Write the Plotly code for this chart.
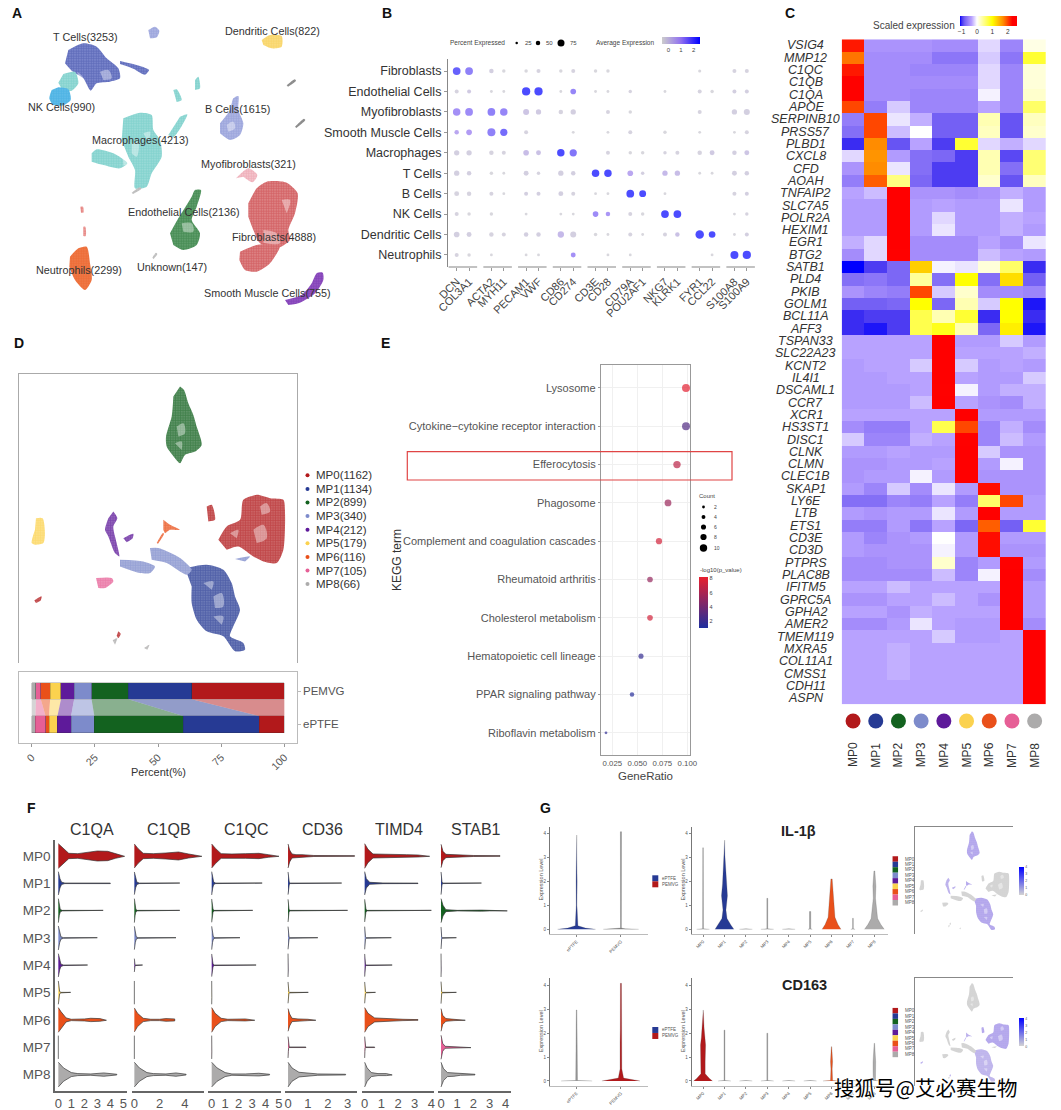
import plotly.graph_objects as go

W, H = 1061, 1110
FONT = "Liberation Sans, Arial, sans-serif"

MP_NAMES = ["MP0", "MP1", "MP2", "MP3", "MP4", "MP5", "MP6", "MP7", "MP8"]
MP_COLORS = ["#b2191b", "#263a94", "#13621f", "#7d8bcb", "#5e1a9a", "#fbd24f", "#e9501a", "#e65f96", "#acabab"]

# ---- Panel A: cell-atlas embedding, cluster outlines in embedding units
A_CLUSTERS = [
    ("#2f3f9e", "#8c96d6", [(205,150),(250,130),(290,140),(320,175),(355,205),(360,235),(330,245),(290,250),(272,272),(250,235),(215,212),(195,190)]),
    ("#2f3f9e", "#8c96d6", [(360,183),(420,198),(447,210),(435,224),(400,206),(360,192)]),
    ("#7f8bd0", "#b8bfe8", [(445,90),(465,80),(478,92),(470,112),(450,115)]),
    ("#5cc4be", "#a8e0dd", [(190,222),(225,215),(235,250),(215,272),(190,270),(175,248)]),
    ("#2ea6de", "#6cc0ea", [(175,262),(205,268),(212,300),(190,316),(160,315),(148,295),(155,270)]),
    ("#5cc4be", "#a8e0dd", [(370,355),(420,338),(455,345),(460,390),(480,420),(485,470),(455,520),(440,560),(405,565),(405,510),(385,470),(365,420)]),
    ("#5cc4be", "#a8e0dd", [(275,460),(290,448),(340,460),(382,490),(360,505),(310,495),(275,485)]),
    ("#5cc4be", "#a8e0dd", [(520,270),(530,268),(545,300),(530,306)]),
    ("#5cc4be", "#a8e0dd", [(585,240),(595,230),(600,265),(585,270)]),
    ("#5cc4be", "#a8e0dd", [(540,350),(562,343),(520,412),(505,405)]),
    ("#7f8bd0", "#b8bfe8", [(660,370),(690,330),(700,295),(715,288),(715,330),(730,370),(720,405),(690,420),(660,400)]),
    ("#f6ca4c", "#fbe08a", [(785,120),(810,105),(845,108),(845,140),(815,145),(790,135)]),
    ("#777777", "#999999", [(860,256),(884,238),(888,242),(864,260)]),
    ("#777777", "#999999", [(885,380),(912,356),(916,360),(889,384)]),
    ("#aaaaaa", "#cccccc", [(395,578),(420,562),(424,566),(399,582)]),
    ("#aaaaaa", "#cccccc", [(457,773),(468,758),(472,762),(461,777)]),
    ("#e88a9a", "#f6d3d8", [(708,535),(745,505),(772,525),(758,547),(730,530)]),
    ("#c4282e", "#e39a9a", [(745,610),(770,565),(800,545),(860,548),(893,580),(885,640),(865,690),(870,720),(830,745),(780,730),(760,690),(745,650)]),
    ("#c4282e", "#e39a9a", [(720,755),(770,735),(840,735),(810,790),(770,815),(735,810),(718,780)]),
    ("#1e6e2e", "#6fa97a", [(510,700),(535,655),(575,590),(585,570),(603,570),(590,620),(575,660),(600,700),(590,735),(550,750),(520,735)]),
    ("#ea5a1e", "#f08050", [(210,770),(235,745),(260,740),(270,790),(275,840),(255,870),(225,840),(208,800)]),
    ("#d9534f", "#f0b0ae", [(241,620),(249,620),(250,638),(243,638)]),
    ("#d9534f", "#f0b0ae", [(250,680),(256,680),(257,708),(250,708)]),
    ("#6b20a8", "#9a62c8", [(855,900),(905,885),(935,850),(950,820),(968,818),(970,840),(945,880),(900,908),(865,915)]),
]
# sparse areas inside the clusters
A_GAPS = [
    [(300,215),(325,210),(335,235),(310,240)], [(232,215),(250,235),(240,255)],
    [(395,430),(415,425),(410,470),(395,460)], [(368,470),(385,490),(370,497)], [(430,400),(450,395),(445,425)],
    [(790,690),(830,700),(840,730),(790,728)], [(845,600),(870,600),(860,640)],
    [(545,670),(575,670),(580,695),(550,695)], [(680,375),(700,365),(705,385),(685,395)],
]
A_LABELS = [
    ("T Cells(3253)", 257, 112), ("Dendritic Cells(822)", 817, 92), ("NK Cells(990)", 183, 320),
    ("B Cells(1615)", 713, 328), ("Macrophages(4213)", 422, 420), ("Myofibroblasts(321)", 745, 492),
    ("Endothelial Cells(2136)", 553, 635), ("Fibroblasts(4888)", 822, 712), ("Unknown(147)", 517, 800),
    ("Neutrophils(2299)", 236, 810), ("Smooth Muscle Cells(755)", 802, 880),
]

# ---- Panel B: dot plot of marker genes
B_CELLS = ["Fibroblasts", "Endothelial Cells", "Myofibroblasts", "Smooth Muscle Cells", "Macrophages",
           "T Cells", "B Cells", "NK Cells", "Dendritic Cells", "Neutrophils"]
B_GENES = ["DCN", "COL3A1", "ACTA2", "MYH11", "PECAM1", "VWF", "CD86", "CD274", "CD3E", "CD28",
           "CD79A", "POU2AF1", "NKG7", "KLRK1", "FYR1", "CCL22", "S100A8", "S100A9"]
B_PCT = [
    [75,75,25,15,15,20,15,20,15,15,0,0,0,0,12,0,20,20],
    [20,20,10,10,85,85,10,40,10,10,15,0,10,0,20,15,20,20],
    [70,75,75,70,45,35,25,35,0,20,15,0,0,0,20,0,35,45],
    [25,40,80,65,20,0,0,10,0,10,20,0,15,0,10,0,10,20],
    [35,35,25,20,40,30,70,65,0,20,15,15,15,20,25,30,25,30],
    [35,25,15,10,30,15,35,25,70,70,40,15,35,35,10,10,30,25],
    [30,25,20,10,20,20,30,20,10,10,75,60,10,0,0,0,20,20],
    [20,15,15,0,10,0,10,10,40,25,20,15,75,75,0,0,10,15],
    [40,30,25,20,25,25,50,45,15,10,20,10,20,25,90,55,10,20],
    [20,15,10,0,10,10,0,30,0,10,10,0,0,0,0,10,80,85],
]
B_EXPR = [
    [2.6,2.0,.3,.1,.1,.2,.1,.2,.1,.1,0,0,0,0,.1,0,.2,.2],
    [.2,.4,.1,.1,3,3,.1,1.9,.1,.1,.2,0,.1,0,.2,.1,.3,.3],
    [1.7,1.8,2.0,1.9,.5,.4,.2,.3,0,.2,.1,0,0,0,.2,0,.3,.3],
    [1.2,1.5,2.0,2.4,.2,0,0,.1,0,.1,.2,0,.1,0,.1,0,.1,.2],
    [.3,.3,.2,.2,.7,.6,3,2.2,0,.2,.1,.1,.2,.2,.2,.4,.3,.5],
    [.3,.3,.1,.1,.3,.2,.3,.3,3,3,1.2,.3,.8,.7,.1,.1,.3,.3],
    [.2,.2,.2,.1,.3,.3,.3,.2,.1,.1,3,3,.1,0,0,0,.2,.3],
    [.2,.1,.1,0,.1,0,.1,.1,1.8,1.6,.2,.1,3,3,0,0,.1,.2],
    [.3,.3,.2,.2,.3,.3,.8,.3,.1,.1,.2,.1,.2,.6,3,3,.1,.3],
    [.2,.1,.1,0,.1,.1,0,1.7,0,.1,.1,0,0,0,0,.1,3,3],
]

# ---- Panel C: scaled expression of top genes per macrophage programme
C_GENES = ["VSIG4","MMP12","C1QC","C1QB","C1QA","APOE","SERPINB10","PRSS57","PLBD1","CXCL8","CFD","AOAH",
           "TNFAIP2","SLC7A5","POLR2A","HEXIM1","EGR1","BTG2","SATB1","PLD4","PKIB","GOLM1","BCL11A","AFF3",
           "TSPAN33","SLC22A23","KCNT2","IL4I1","DSCAML1","CCR7","XCR1","HS3ST1","DISC1","CLNK","CLMN","CLEC1B",
           "SKAP1","LY6E","LTB","ETS1","CD3E","CD3D","PTPRS","PLAC8B","IFITM5","GPRC5A","GPHA2","AMER2",
           "TMEM119","MXRA5","COL11A1","CMSS1","CDH11","ASPN"]
C_VALUES = [
    [2.2,-.45,-.45,-.45,-.5,-.5,-.15,-.55,.1],
    [1.8,-.5,-.5,-.5,-.65,-.65,-.2,-.65,.8],
    [2.2,-.5,-.5,-.55,-.55,-.55,-.15,-.55,.15],
    [2.3,-.5,-.5,-.5,-.5,-.5,-.15,-.55,.15],
    [2.3,-.5,-.5,-.55,-.55,-.55,-.05,-.55,.2],
    [2.0,-.6,-.2,-.55,-.55,-.55,-.35,-.55,.6],
    [-.6,2.0,-.1,-.3,-.8,-.8,.3,-.85,.25],
    [-.7,2.0,-.25,0,-.8,-.8,.25,-.85,.2],
    [-1.0,1.7,-.85,-.35,-.95,.8,-.15,-.3,-.15],
    [-.15,1.65,-.4,-.7,-.75,-.95,.3,-.9,.55],
    [-.45,1.7,-.1,-.7,-.95,-.95,.3,-.7,.55],
    [-.6,1.9,.5,-.75,-.95,-.95,.2,-.85,.25],
    [-.35,-.25,2.4,-.45,-.45,-.5,-.45,-.3,-.4],
    [-.4,-.4,2.4,-.4,-.35,-.4,-.4,-.1,-.4],
    [-.4,-.4,2.45,-.4,-.15,-.4,-.4,-.3,-.35],
    [-.4,-.4,2.45,-.4,-.1,-.4,-.4,-.3,-.4],
    [-.3,-.15,2.4,-.5,-.5,-.5,-.35,-.5,-.1],
    [-.5,-.15,2.3,-.5,-.5,-.5,-.25,-.35,-.4],
    [-1.1,-.95,-.75,1.3,-.05,-.1,.15,.6,-1.0],
    [-.7,-.65,-.75,.4,-.7,1.0,-.7,1.2,-.8],
    [-.45,-.55,-.6,2.0,-.2,.2,-.5,-.5,-.55],
    [-.8,-.8,-.75,1.0,-.75,.3,-.2,1.0,-1.05],
    [-1.0,-.95,-.95,.7,.3,.8,-1.0,1.0,-1.0],
    [-1.0,-1.05,-.95,.7,.9,.3,-.75,1.1,-1.05],
    [-.35,-.35,-.35,-.35,2.45,-.4,-.4,-.2,-.4],
    [-.35,-.35,-.35,-.35,2.45,-.35,-.35,-.35,-.3],
    [-.4,-.35,-.35,-.2,2.45,-.2,-.4,-.35,-.4],
    [-.4,-.4,-.35,-.35,2.45,-.35,-.4,-.4,-.2],
    [-.4,-.4,-.4,-.35,2.3,-.05,-.4,-.3,-.3],
    [-.4,-.4,-.4,-.25,2.4,-.35,-.45,-.5,-.3],
    [-.35,-.35,-.35,-.35,-.35,2.45,-.4,-.4,-.4],
    [-.5,-.6,-.6,-.35,.7,2.0,-.55,-.3,-.5],
    [-.2,-.55,-.55,-.3,-.35,2.3,-.55,-.25,-.4],
    [-.4,-.4,-.35,-.4,-.4,2.4,-.2,-.45,-.45],
    [-.45,-.45,-.4,-.4,-.35,2.4,-.4,-.05,-.45],
    [-.45,-.4,-.4,-.05,-.4,2.4,-.45,-.45,-.45],
    [-.4,-.55,-.2,-.5,-.1,-.4,2.25,-.45,-.45],
    [-.7,-.7,-.55,-.6,-.35,-.6,.6,2.0,-.4],
    [-.4,-.45,-.4,-.4,-.1,-.4,2.3,-.4,-.4],
    [-.6,-.6,-.4,-.65,-.35,-.75,1.9,-.8,.8],
    [-.4,-.55,-.45,-.4,0,-.4,2.25,-.4,-.4],
    [-.4,-.45,-.45,-.45,-.05,-.4,2.25,-.45,-.45],
    [-.5,-.5,-.45,-.45,.2,-.55,-.4,2.3,-.4],
    [-.5,-.5,-.5,-.5,-.25,-.55,-.05,2.35,-.5],
    [-.35,-.35,-.25,-.35,-.35,-.35,-.35,2.5,-.4],
    [-.45,-.45,-.35,-.35,-.25,-.35,-.45,2.5,-.4],
    [-.35,-.35,-.45,-.3,-.35,-.35,-.35,2.5,-.4],
    [-.5,-.5,-.4,-.1,-.35,-.4,-.4,2.5,-.5],
    [-.35,-.35,-.35,-.35,-.2,-.4,-.4,-.35,2.5],
    [-.35,-.35,-.3,-.35,-.35,-.35,-.35,-.35,2.5],
    [-.35,-.35,-.3,-.35,-.35,-.35,-.35,-.35,2.5],
    [-.35,-.35,-.3,-.35,-.35,-.35,-.35,-.35,2.5],
    [-.35,-.35,-.35,-.35,-.35,-.35,-.35,-.35,2.5],
    [-.35,-.35,-.35,-.35,-.35,-.35,-.35,-.35,2.5],
]
C_SCALE = [[0, "#0000ff"], [.027, "#3a2cf2"], [.04, "#4c3cf2"], [.081, "#7460f4"], [.162, "#a48cfb"], [.203, "#b8a2ff"],
           [.297, "#ffffff"], [.568, "#ffff00"], [.757, "#ff8c00"], [.92, "#ff0000"], [1, "#ff0000"]]

# ---- Panel D: macrophage embedding (programme index, outline) and sample composition
D_CLUSTERS = [
    (2, [(540,170),(552,180),(565,220),(580,255),(590,290),(605,345),(585,365),(555,375),(540,400),(525,385),(500,350),(498,320),(515,260),(520,200)]),
    (0, [(655,630),(680,590),(720,570),(730,510),(770,495),(810,505),(850,510),(855,550),(850,660),(830,700),(790,695),(760,680),(715,650),(680,660)]),
    (0, [(620,530),(635,525),(645,570),(625,575)]),
    (1, [(555,715),(620,705),(670,720),(695,760),(705,800),(720,840),(700,890),(690,920),(730,940),(735,960),(705,965),(670,920),(620,905),(590,870),(575,820),(575,770)]),
    (3, [(450,655),(475,655),(540,685),(575,720),(560,735),(500,700),(455,690)]),
    (3, [(360,690),(430,695),(465,710),(450,730),(420,730),(360,710)]),
    (3, [(705,688),(750,680),(735,695)]),
    (4, [(340,545),(352,565),(340,590),(350,640),(358,680),(345,670),(325,620),(315,600),(325,565)]),
    (4, [(370,625),(400,612),(398,625),(380,637)]),
    (5, [(108,565),(128,565),(135,610),(130,640),(105,645),(95,640),(105,600)]),
    (6, [(490,570),(510,585),(540,600),(510,600),(495,610),(490,600)]),
    (6, [(470,640),(488,610),(492,612),(474,642)]),
    (7, [(288,745),(335,745),(340,755),(315,775),(295,775)]),
    (0, [(103,812),(125,800),(122,812),(108,820)]),
    (0, [(355,905),(362,912),(355,925),(350,918)]),
    (8, [(338,932),(352,925),(345,945)]),
    (8, [(432,955),(448,945),(442,960)]),
]
D_GAPS = [
    [(760,600),(790,585),(800,625),(770,640)], [(780,530),(800,520),(810,545),(785,555)], [(690,610),(715,600),(710,625)],
    [(640,800),(665,790),(670,830),(645,835)], [(610,760),(640,755),(635,780)], [(640,860),(670,860),(665,885)],
    [(530,290),(550,280),(555,310),(535,320)], [(525,340),(545,335),(545,360)],
]
D_COUNTS = ["MP0(1162)", "MP1(1134)", "MP2(899)", "MP3(340)", "MP4(212)", "MP5(179)", "MP6(116)", "MP7(105)", "MP8(66)"]
# percentage of each programme, listed from MP8 to MP0 as they stack from the left
PEMVG_PCT = [1.7, 1.9, 3.7, 4.3, 5.2, 6.9, 14.6, 25.0, 36.7]
EPTFE_PCT = [1.5, 4.0, 1.4, 3.3, 5.4, 9.2, 35.2, 30.1, 9.9]

# ---- Panel E: KEGG enrichment
E_TERMS = ["Lysosome", "Cytokine\u2212cytokine receptor interaction", "Efferocytosis", "Phagosome",
           "Complement and coagulation cascades", "Rheumatoid arthritis", "Cholesterol metabolism",
           "Hematopoietic cell lineage", "PPAR signaling pathway", "Riboflavin metabolism"]
E_RATIO = [.0987, .0987, .0897, .0807, .0717, .0627, .0627, .0537, .0447, .0187]
E_COUNT = [11, 11, 10, 9, 8, 7, 7, 6, 5, 2]
E_LOGP = [8.0, 2.8, 6.6, 5.4, 7.4, 5.2, 7.4, 1.8, 1.3, 1.6]

# ---- Panel F: per-gene violins, as (expression, half width) knots for MP0..MP8
def spike(h0, neck, end, tail=.8):
    return [(0, h0), (neck * .5, h0 * .4), (neck, h0 * .1), (neck * 2, tail), (end, tail)]

THIN = spike(35, .02, .03, .5)
F_GENES = ["C1QA", "C1QB", "C1QC", "CD36", "TIMD4", "STAB1"]
F_RANGES = [(-.256, 5.31), (-.213, 5.52), (-.25, 5.125), (-.153, 3.49), (-.18, 4.16), (-.167, 4.31)]
F_TICKS = [[0,1,2,3,4,5], [0,2,4], [0,1,2,3,4,5], [0,1,2,3], [0,1,2,3,4], [0,1,2,3,4]]
C1QA_KNOTS = [
    [(0,37),(.3,25),(.8,8),(1.5,7),(2.2,10),(3,15),(3.8,14),(4.4,7),(5.1,1)],
    spike(35,.25,4.0), spike(36,.15,3.45), spike(36,.2,3.0), spike(35,.2,2.25), spike(35,.1,.95),
    [(0,37),(.2,25),(.6,6),(1,2),(2,3),(2.5,5),(3.2,4),(3.7,1)],
    THIN,
    [(0,37),(.4,20),(1,6),(1.5,3),(2.5,2),(3.5,5),(4.5,1)],
]
C1QB_KNOTS = [
    [(0,36),(.3,22),(.7,8),(1.5,7),(2.5,9),(3.5,12),(4.3,6),(5.35,1)],
    spike(34,.2,3.6), spike(36,.12,3.6), spike(35,.15,3.3), spike(20,.05,.65), THIN,
    [(0,36),(.25,20),(.7,5),(1.3,2),(2,2),(2.5,4),(3.2,3)],
    THIN,
    [(0,37),(.4,20),(1,6),(1.5,3),(2.5,2),(3.3,5),(4.1,1)],
]
C1QC_KNOTS = [
    [(0,36),(.3,22),(.7,7),(1.5,6),(2.5,7),(3.5,8),(4.2,4),(5,1)],
    spike(35,.15,3.75), spike(35,.1,3.05), spike(35,.12,2.1), spike(34,.1,3.3), THIN,
    [(0,37),(.25,20),(.7,5),(1.2,2),(2.5,3),(3.2,1)],
    THIN,
    [(0,37),(.4,20),(1,6),(1.5,2),(2.5,2),(3.5,4),(4.3,1)],
]
CD36_KNOTS = [
    [(0,36),(.08,18),(.2,6),(.4,4),(.7,4),(1.3,1.5),(3.35,1)],
    spike(34,.06,2.7), spike(34,.05,3.0), spike(34,.05,1.5), THIN, spike(32,.04,1.02),
    [(0,34),(.08,18),(.2,5),(.5,3),(1,2),(1.4,1)],
    spike(32,.03,.9),
    [(0,37),(.2,20),(.55,7),(1,4),(1.5,2),(2.9,1)],
]
TIMD4_KNOTS = [
    [(0,37),(.2,20),(.5,6),(1.5,4),(2.5,4),(3.2,3),(3.9,1)],
    [(0,35),(.1,14),(.3,3),(.8,2),(1.1,1),(3.2,.7)],
    spike(34,.08,4.0), spike(34,.05,1.6), spike(34,.05,1.65), spike(32,.05,.65),
    [(0,37),(.2,20),(.6,6),(1.5,3),(2.3,2),(3.2,1)],
    spike(32,.03,.6),
    [(0,37),(.15,20),(.4,6),(.8,3),(1.3,3),(1.65,1)],
]
STAB1_KNOTS = [
    [(0,35),(.12,14),(.3,5),(.8,4),(1.3,3),(2,1.5),(3.65,1)],
    spike(34,.06,2.5),
    [(0,36),(.12,16),(.3,3),(1,.8),(2.5,1.6),(3,.8),(4.1,.7)],
    spike(33,.04,.95), THIN, spike(33,.04,.95),
    [(0,34),(.1,14),(.3,4),(.8,2),(1.5,1)],
    [(0,36),(.1,12),(.25,3),(1.85,1)],
    [(0,37),(.15,18),(.4,6),(.8,5),(1.2,2),(2.1,1)],
]
F_KNOTS = [C1QA_KNOTS, C1QB_KNOTS, C1QC_KNOTS, CD36_KNOTS, TIMD4_KNOTS, STAB1_KNOTS]

# ---- Panel G: IL-1beta and CD163, as (expression, half width) knots
FLAT = [(0, .3), (.02, .005)]
IL1B_GROUP = [
    ("#263a94", [(0,.43),(.05,.2),(.15,.03),(1,.008),(2,.012),(3,.005),(3.93,.002)]),
    ("#888888", [(0,.4),(.02,.1),(.05,.01),(4.07,.012)]),
]
CD163_GROUP = [
    ("#999999", [(0,.35),(.02,.02),(2.96,.006)]),
    ("#b2191b", [(0,.43),(.05,.25),(.12,.06),(.5,.02),(1.2,.03),(1.6,.02),(2.2,.015),(4.07,.012)]),
]
IL1B_MP = [
    [(0,.3),(.02,.02),(3.4,.012)],
    [(0,.44),(.18,.3),(.45,.12),(.8,.07),(1.4,.14),(1.9,.09),(2.6,.05),(3.1,.02),(3.72,.008)],
    FLAT,
    [(0,.3),(.02,.02),(1.29,.02)],
    FLAT,
    [(0,.1),(.02,.03),(.74,.03)],
    [(0,.44),(.2,.3),(.5,.16),(1,.12),(1.5,.09),(2.1,.03)],
    [(0,.1),(.02,.015),(.46,.015)],
    [(0,.46),(.2,.3),(.45,.15),(.8,.1),(1.3,.05),(1.8,.07),(2.43,.02)],
]
CD163_MP = [
    [(0,.44),(.1,.3),(.3,.1),(.8,.1),(1.5,.12),(1.8,.08),(2.2,.05),(2.96,.01)],
    [(0,.3),(.02,.02),(2.12,.02)],
    FLAT,
    [(0,.3),(.02,.02),(1.99,.02)],
    FLAT,
    FLAT,
    [(0,.4),(.02,.05),(.5,.03),(.8,.05),(1.43,.01)],
    FLAT,
    [(0,.3),(.02,.05),(.4,.06),(.8,.06),(1.57,.01)],
]
# programmes that are lit up in each feature map
IL1B_LIT = {1: "#6a4ce8", 2: "#6a4ce8", 6: "#6a4ce8", 4: "#8a74e8"}
CD163_LIT = {0: "#6a4ce8", 1: "#9482e8", 6: "#8a74e8"}

fig = go.Figure()
layout = {}
annotations = []
shapes = []
axis_count = 0


def add_axes(x0, y0, x1, y1, xkw=None, ykw=None):
    """Create an x/y axis pair occupying the given page rectangle."""
    global axis_count
    axis_count += 1
    n = axis_count
    sx = "" if n == 1 else str(n)
    base = dict(visible=False, showgrid=False, zeroline=False)
    xa = dict(base, domain=[x0 / W, x1 / W], anchor=f"y{sx}")
    ya = dict(base, domain=[1 - y1 / H, 1 - y0 / H], anchor=f"x{sx}")
    xa.update(xkw or {})
    ya.update(ykw or {})
    layout[f"xaxis{sx}"] = xa
    layout[f"yaxis{sx}"] = ya
    return f"x{sx}", f"y{sx}"


def note(x, y, text, size=10, color="#333333", xanchor="center", angle=0, xref="paper", yref="paper", **font):
    if xref == "paper":
        x = x / W
    if yref == "paper":
        y = 1 - y / H
    annotations.append(dict(x=x, y=y, xref=xref, yref=yref, text=text, showarrow=False, xanchor=xanchor,
                            yanchor="middle", textangle=angle, borderpad=0, align="center",
                            font=dict(size=size, color=color, **font)))


def polygon(ax, pts, fg, bg, size=2.5, solidity=.68):
    fig.add_trace(go.Scatter(
        x=[p[0] for p in pts], y=[p[1] for p in pts], xaxis=ax[0], yaxis=ax[1], mode="lines",
        line=dict(width=0, shape="spline", smoothing=.7), fill="toself",
        fillpattern=dict(shape=".", fgcolor=fg, bgcolor=bg, size=size, solidity=solidity),
        hoverinfo="skip", showlegend=False))


def gap(ax, pts):
    fig.add_trace(go.Scatter(
        x=[p[0] for p in pts], y=[p[1] for p in pts], xaxis=ax[0], yaxis=ax[1], mode="lines",
        line=dict(width=0, shape="spline", smoothing=1), fill="toself", fillcolor="rgba(255,255,255,.4)",
        hoverinfo="skip", showlegend=False))


def mix_white(hex_color, keep):
    rgb = [int(hex_color[i:i + 2], 16) for i in (1, 3, 5)]
    return "#%02x%02x%02x" % tuple(int(255 - (255 - c) * keep) for c in rgb)


def rgba(hex_color, alpha):
    rgb = [int(hex_color[i:i + 2], 16) for i in (1, 3, 5)]
    return f"rgba({rgb[0]},{rgb[1]},{rgb[2]},{alpha})"


# Page-level axes for legend keys
canvas = add_axes(0, 0, W, H, dict(range=[0, W]), dict(range=[H, 0]))


def key(x, y, color, size, symbol="circle"):
    fig.add_trace(go.Scatter(x=[x], y=[y], xaxis=canvas[0], yaxis=canvas[1], mode="markers",
                             marker=dict(color=color, size=size, symbol=symbol, line=dict(width=0)),
                             hoverinfo="skip", showlegend=False))


# ---- A
ax_a = add_axes(0, 0, 380, 320, dict(range=[0, 1140]), dict(range=[960, 0]))
for fg, bg, pts in A_CLUSTERS:
    polygon(ax_a, pts, fg, bg)
for pts in A_GAPS:
    gap(ax_a, pts)
for text, x, y in A_LABELS:
    note(x, y, text, 10.8, "#333333", xref=ax_a[0], yref=ax_a[1])

# ---- B
gene_x = [2.8 * (i // 2) + i % 2 for i in range(len(B_GENES))]
ax_b = add_axes(
    448, 59, 755, 267,
    dict(visible=True, range=[-.7, 24.06], tickvals=gene_x, ticktext=B_GENES, tickangle=-45, showline=False,
         ticks="outside", ticklen=3, tickcolor="#999999", tickfont=dict(size=11, color="#444444")),
    dict(visible=True, range=[9.59, -.59], tickvals=list(range(10)), ticktext=B_CELLS, showline=True,
         linecolor="#888888", linewidth=1.2, ticks="outside", ticklen=3, tickcolor="#999999",
         tickfont=dict(size=12.5, color="#333333")))
for g in range(0, len(B_GENES), 2):
    shapes.append(dict(type="line", xref=ax_b[0], yref="paper", x0=gene_x[g] - .65, x1=gene_x[g + 1] + .65,
                       y0=1 - 267 / H, y1=1 - 267 / H, line=dict(color="#999999", width=1.2)))
xs, ys, pct, expr = [], [], [], []
for r in range(len(B_CELLS)):
    for c in range(len(B_GENES)):
        if B_PCT[r][c] > 0:
            xs.append(gene_x[c]); ys.append(r); pct.append(B_PCT[r][c]); expr.append(B_EXPR[r][c])
fig.add_trace(go.Scatter(
    x=xs, y=ys, xaxis=ax_b[0], yaxis=ax_b[1], mode="markers", hoverinfo="skip", showlegend=False,
    marker=dict(size=pct, sizemode="area", sizeref=2.5, sizemin=1, line=dict(width=0), color=expr,
                colorscale=[[0, "#cccccc"], [.5, "#9070f0"], [1, "#0000ff"]], cmin=0, cmax=3,
                colorbar=dict(orientation="h", x=662 / W, xanchor="left", y=1 - 37 / H, yanchor="top",
                              len=38, lenmode="pixels", thickness=7, outlinewidth=0, xpad=0, ypad=0,
                              tickvals=[.5, 1.5, 2.5], ticktext=["0", "1", "2"], ticklen=0,
                              tickfont=dict(size=6, color="#444444")))))
note(449, 43, "Percent Expressed", 6.5, "#444444", xanchor="left")
note(595, 43, "Average Expression", 6.5, "#444444", xanchor="left")
for kx, ks, tx, label in [(516.7, 2.5, 524, "25"), (538, 4.5, 545, "50"), (561, 7, 569, "75")]:
    key(kx, 43, "#000000", ks)
    note(tx, 43, label, 6, "#444444", xanchor="left")

# ---- C
ax_c = add_axes(841.7, 39.3, 1046, 704.3, dict(range=[-.5, 8.5]), dict(range=[53.5, -.5]))
fig.add_trace(go.Heatmap(
    z=C_VALUES, xaxis=ax_c[0], yaxis=ax_c[1], zmin=-1.1, zmax=2.6, colorscale=C_SCALE, hoverinfo="skip",
    colorbar=dict(orientation="h", x=960 / W, xanchor="left", y=1 - 15.7 / H, yanchor="top", len=57,
                  lenmode="pixels", thickness=10, outlinewidth=0, xpad=0, ypad=0, tickvals=[-1, 0, 1, 2],
                  ticklen=0, tickfont=dict(size=6.5, color="#333333"))))
for i, gene in enumerate(C_GENES):
    note(805.5, i, gene, 12.5, "#333333", yref=ax_c[1], style="italic")
note(914, 26, "Scaled expression", 10, "#444444")
for i, name in enumerate(MP_NAMES):
    key(841.7 + 22.7 * (i + .5), 721, MP_COLORS[i], 15)
    note(i, 755, name, 12, "#333333", angle=-90, xref=ax_c[0])

# ---- D
ax_d = add_axes(19.3, 374.3, 296.7, 663,
                dict(visible=True, range=[58, 890], side="top", showline=True, linecolor="#aaaaaa", linewidth=1.2,
                     showticklabels=False, ticks=""),
                dict(visible=True, range=[1000, 133], showline=True, mirror=True, linecolor="#aaaaaa", linewidth=1.2,
                     showticklabels=False, ticks=""))
for idx, pts in D_CLUSTERS:
    polygon(ax_d, pts, MP_COLORS[idx], mix_white(MP_COLORS[idx], .6))
for pts in D_GAPS:
    gap(ax_d, pts)
for i, label in enumerate(D_COUNTS):
    y = 475.3 + 13.6 * i
    key(307.5, y, MP_COLORS[i], 4)
    note(315, y, label, 11.5, "#333333", xanchor="left")

ax_bar = add_axes(19.3, 671.7, 296.7, 743.3,
                  dict(visible=True, range=[-4.9, 104.9], tickvals=[0, 25, 50, 75, 100], tickangle=-45, showline=True,
                       mirror=True, linecolor="#bbbbbb", ticks="outside", ticklen=3, tickcolor="#999999",
                       tickfont=dict(size=10.5, color="#555555")),
                  dict(visible=True, range=[.43, 2.58], tickvals=[1, 2], ticktext=["ePTFE", "PEMVG"], side="right",
                       showline=True, mirror=True, linecolor="#bbbbbb", ticks="outside", ticklen=3, tickcolor="#bbbbbb",
                       tickfont=dict(size=11.5, color="#555555")))
stack_colors = MP_COLORS[::-1]
left_p = left_e = 0
for i, color in enumerate(stack_colors):
    p, e = PEMVG_PCT[i], EPTFE_PCT[i]
    fig.add_trace(go.Bar(y=[2, 1], x=[p, e], orientation="h", width=.5, xaxis=ax_bar[0], yaxis=ax_bar[1],
                         marker=dict(color=color, line=dict(color="rgba(40,40,40,.45)", width=.5)),
                         hoverinfo="skip", showlegend=False))
    fig.add_trace(go.Scatter(x=[left_p, left_p + p, left_e + e, left_e], y=[1.75, 1.75, 1.25, 1.25],
                             xaxis=ax_bar[0], yaxis=ax_bar[1], mode="lines", line=dict(width=0), fill="toself",
                             fillcolor=rgba(color, .5), hoverinfo="skip", showlegend=False))
    left_p += p
    left_e += e
note(158, 771.7, "Percent(%)", 11, "#333333")

# ---- E
ax_e = add_axes(601, 365, 690, 755,
                dict(visible=True, range=[.0137, .1027], tickvals=[.025, .05, .075, .1],
                     ticktext=["0.025", "0.050", "0.075", "0.100"], showgrid=True, gridcolor="#f0f0f0", showline=True,
                     mirror=True, linecolor="#999999", linewidth=1.3, ticks="",
                     tickfont=dict(size=7.8, color="#555555")),
                dict(visible=True, range=[9.58, -.6], tickvals=list(range(10)), ticktext=E_TERMS, showgrid=True,
                     gridcolor="#f0f0f0", showline=True, mirror=True, linecolor="#999999", linewidth=1.3, ticks="outside",
                     ticklen=2, tickcolor="#999999", tickfont=dict(size=11, color="#555555")))


def count_size(count):
    return 1.6 + .58 * count


fig.add_trace(go.Scatter(
    x=E_RATIO, y=list(range(10)), xaxis=ax_e[0], yaxis=ax_e[1], mode="markers", hoverinfo="skip", showlegend=False,
    marker=dict(size=[count_size(c) for c in E_COUNT], color=E_LOGP, line=dict(width=0),
                colorscale=[[0, "#1f2f9f"], [1, "#e8202e"]], cmin=1, cmax=8.2,
                colorbar=dict(x=699 / W, xanchor="left", y=1 - 577 / H, yanchor="top", len=50.7, lenmode="pixels",
                              thickness=9, outlinewidth=0, xpad=0, ypad=0, tickvals=[2, 4, 6, 8], ticklen=0,
                              tickfont=dict(size=5.5, color="#444444")))))
shapes.append(dict(type="rect", xref="paper", yref="paper", x0=407.3 / W, x1=732 / W, y0=1 - 480 / H, y1=1 - 451.7 / H,
                   line=dict(color="#e04545", width=1.2)))
note(397, 560, "KEGG term", 12, "#333333", angle=-90)
note(645.7, 776, "GeneRatio", 11.5, "#444444")
note(707, 496, "Count", 6, "#444444")
for cnt, y in zip([2, 4, 6, 8, 10], [507, 517, 527, 537, 548]):
    key(703.5, y, "#000000", count_size(cnt))
    note(713, y, str(cnt), 5, "#444444", xanchor="left")
note(721, 570, "-log10(p_value)", 6, "#444444")

# ---- F
for p, gene in enumerate(F_GENES):
    px0 = (165 + 230 * p) / 3
    first = p == 0
    ticks = F_TICKS[p]
    ax = add_axes(
        px0, 840, px0 + 217 / 3, 1091,
        dict(visible=True, range=list(F_RANGES[p]), tickvals=ticks, showline=True, linecolor="#666666", linewidth=1.5,
             ticks="", tickfont=dict(size=13, color="#555555")),
        dict(visible=True, range=[8.6, -.585], tickvals=list(range(9)), ticktext=MP_NAMES, showline=first,
             linecolor="#666666", linewidth=1.5, ticks="", showticklabels=first,
             tickfont=dict(size=13.5, color="#555555")))
    note(px0 + 217 / 6 + 1, 829, gene, 16, "#333333")
    for m, knots in enumerate(F_KNOTS[p]):
        vx = [k[0] for k in knots] + [k[0] for k in reversed(knots)]
        vy = [m - k[1] / 82 for k in knots] + [m + k[1] / 82 for k in reversed(knots)]
        fig.add_trace(go.Scatter(x=vx, y=vy, xaxis=ax[0], yaxis=ax[1], mode="lines", fill="toself",
                                 fillcolor=MP_COLORS[m], line=dict(color="rgba(50,50,50,.85)", width=.8),
                                 hoverinfo="skip", showlegend=False))


# ---- G
def small_axes(x0, y0, x1, y1, cats, unit_left, unit_right):
    return add_axes(
        x0, y0, x1, y1,
        dict(visible=True, range=[unit_left, unit_right], tickvals=list(range(len(cats))), ticktext=cats, tickangle=-45,
             showline=True, linecolor="#bbbbbb", linewidth=1, ticks="outside", ticklen=2, tickcolor="#888888",
             tickfont=dict(size=4.5, color="#555555")),
        dict(visible=True, range=[-.208, 4.278], tickvals=[0, 1, 2, 3, 4], showline=True, linecolor="#777777",
             linewidth=1.3, ticks="outside", ticklen=2, tickcolor="#888888", tickfont=dict(size=4.5, color="#555555")))


def vertical_violin(ax, cat, knots, color):
    vx = [cat - k[1] for k in knots] + [cat + k[1] for k in reversed(knots)]
    vy = [k[0] for k in knots] + [k[0] for k in reversed(knots)]
    fig.add_trace(go.Scatter(x=vx, y=vy, xaxis=ax[0], yaxis=ax[1], mode="lines", fill="toself", fillcolor=color,
                             line=dict(color="rgba(70,70,70,.55)", width=.4), hoverinfo="skip", showlegend=False))


G_ROWS = [("IL-1\u03b2", 798.7, 831, IL1B_GROUP, IL1B_MP, IL1B_LIT),
          ("CD163", 804, 985, CD163_GROUP, CD163_MP, CD163_LIT)]
for r, (title, tx, ty, group, per_mp, lit) in enumerate(G_ROWS):
    dy = 151.67 * r
    top, bottom = 826.7 + dy, 934.3 + dy
    ax1 = small_axes(550, top, 648.3, bottom, ["ePTFE", "PEMVG"], -.6, 1.617)
    for c, (color, knots) in enumerate(group):
        vertical_violin(ax1, c, knots, color)
    note(540.5, 880 + dy, "Expression Level", 5.5, "#555555", angle=-90)
    for i, (label, color) in enumerate([("ePTFE", "#263a94"), ("PEMVG", "#b2191b")]):
        yy = 878.3 + dy + 6 * i
        key(655.3, yy, color, 6, "square")
        note(661, yy, label, 4.5, "#555555", xanchor="left")

    ax2 = small_axes(691.7, top, 888.3, bottom, MP_NAMES, -.53, 8.65)
    for m, knots in enumerate(per_mp):
        peak = max(k[1] for k in knots[2:]) if len(knots) > 2 else 0
        vertical_violin(ax2, m, knots, MP_COLORS[m] if peak > .04 else "#9a9a9a")
    note(682.5, 880 + dy, "Expression Level", 5.5, "#555555", angle=-90)
    note(tx, ty, title, 14.5, "#222222", weight="bold")
    for i, name in enumerate(MP_NAMES):
        yy = 859 + dy + 5.47 * i
        key(895.3, yy, MP_COLORS[i], 5.5, "square")
        note(904, yy, name, 4.5, "#555555", xanchor="left")

    ax3 = add_axes(915, top, 1013.3, bottom,
                   dict(visible=True, range=[58, 890], side="top", showline=True, linecolor="#888888", linewidth=1.3,
                        showticklabels=False, ticks=""),
                   dict(visible=True, range=[1000, 133], showline=True, linecolor="#888888", linewidth=1.3,
                        showticklabels=False, ticks=""))
    for idx, pts in D_CLUSTERS:
        polygon(ax3, pts, lit.get(idx, "#c4c4c4"), "#cfc8ee" if idx in lit else "#dadada", size=2, solidity=.6)
    for pts in D_GAPS:
        gap(ax3, pts)
    fig.add_trace(go.Scatter(
        x=[None], y=[None], xaxis=ax3[0], yaxis=ax3[1], mode="markers", hoverinfo="skip", showlegend=False,
        marker=dict(color=[0], colorscale=[[0, "#d3d3d3"], [1, "#0000ff"]], cmin=0, cmax=4,
                    colorbar=dict(x=1019 / W, xanchor="left", y=1 - (866.7 + dy) / H, yanchor="top", len=28,
                                  lenmode="pixels", thickness=4.5, outlinewidth=0, xpad=0, ypad=0,
                                  tickvals=[0, 1, 2, 3, 4], ticklen=0, tickfont=dict(size=3.5, color="#555555")))))

# ---- Panel letters and site caption
for letter, x, y in [("A", 16.7, 13), ("B", 387, 13), ("C", 790, 13), ("D", 19, 343), ("E", 385, 343),
                     ("F", 31, 808), ("G", 545, 808)]:
    note(x, y, letter, 14, "#111111", weight="bold")
note(925.5, 1087, "\u641c\u72d0\u53f7@\u827e\u5fc5\u8d5b\u751f\u7269", 20.5, "#000000",
     family="Noto Sans CJK SC", shadow="0 0 2px #ffffff, 0 0 3px #ffffff")

fig.update_layout(
    width=W, height=H, margin=dict(l=0, r=0, t=0, b=0, autoexpand=False), paper_bgcolor="white", plot_bgcolor="white",
    font=dict(family=FONT), barmode="stack", showlegend=False, annotations=annotations, shapes=shapes, **layout)
fig.write_html("out.html", config=dict(displayModeBar=False))
